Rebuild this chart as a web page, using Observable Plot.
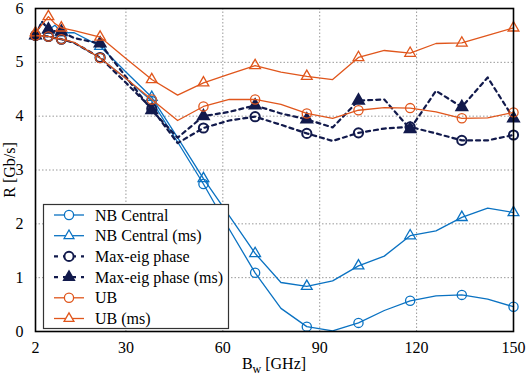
<!DOCTYPE html>
<html>
<head>
<meta charset="utf-8">
<script src="https://cdn.jsdelivr.net/npm/d3@7"></script>
<script src="https://cdn.jsdelivr.net/npm/@observablehq/plot@0.6"></script>
<style>
  html, body { margin: 0; padding: 0; background: #fff; }
</style>
</head>
<body>
<div id="chart"></div>
<script>
// Bandwidth samples [GHz]
const bw = [2,4,6,8,10,14,22,30,38,46,54,62,70,78,86,94,102,110,118,126,134,142,150];
// Bandwidths where markers are drawn
const markerBw = [2,6,10,22,38,54,70,86,102,118,134,150];
const xTicks = [2,30,60,90,120,150];
const yTicks = [0,1,2,3,4,5,6];

// Rate values [Gb/s]
const nbCentral   = [5.50,5.49,5.48,5.45,5.43,5.36,5.08,4.70,4.28,3.52,2.74,1.90,1.09,0.43,0.09,0.01,0.16,0.39,0.57,0.66,0.68,0.60,0.46];
const nbCentralMs = [5.50,5.76,5.60,5.69,5.55,5.55,5.30,4.82,4.35,3.60,2.84,2.15,1.45,0.91,0.84,0.94,1.22,1.40,1.78,1.87,2.12,2.29,2.21];
const maxEig      = [5.50,5.49,5.48,5.45,5.43,5.36,5.09,4.62,4.14,3.50,3.78,3.92,3.99,3.84,3.68,3.54,3.69,3.77,3.80,3.68,3.55,3.55,3.65];
const maxEigMs    = [5.50,5.76,5.61,5.58,5.57,5.45,5.35,4.73,4.11,3.60,4.00,4.08,4.20,4.05,3.94,3.79,4.29,4.31,3.76,4.47,4.17,4.72,3.96];
const ub          = [5.50,5.49,5.48,5.45,5.43,5.37,5.08,4.70,4.31,3.92,4.18,4.31,4.31,4.22,4.05,3.96,4.11,4.16,4.15,4.08,3.96,3.97,4.07];
const ubMs        = [5.55,5.70,5.85,5.72,5.64,5.59,5.47,5.07,4.68,4.39,4.62,4.78,4.94,4.82,4.74,4.68,5.09,5.22,5.17,5.35,5.36,5.50,5.64];

const seriesNames = ["NB Central","NB Central (ms)","Max-eig phase","Max-eig phase (ms)","UB","UB (ms)"];
const seriesValues = [nbCentral, nbCentralMs, maxEig, maxEigMs, ub, ubMs];

const BLUE = "#0a72c2", ORANGE = "#e0561c", NAVY = "#121a4c";
const SERIF = "Liberation Serif";
const styles = {
  "NB Central":         {color: BLUE,   dash: null,  width: 1.3, symbol: "circle",   fill: "none"},
  "NB Central (ms)":    {color: BLUE,   dash: null,  width: 1.3, symbol: "triangle", fill: "none"},
  "Max-eig phase":      {color: NAVY,   dash: "4,4", width: 2.2, symbol: "circle",   fill: "none"},
  "Max-eig phase (ms)": {color: NAVY,   dash: "4,4", width: 2.2, symbol: "triangle", fill: NAVY},
  "UB":                 {color: ORANGE, dash: null,  width: 1.3, symbol: "circle",   fill: "none"},
  "UB (ms)":            {color: ORANGE, dash: null,  width: 1.3, symbol: "triangle", fill: "none"}
};

const data = [];
seriesNames.forEach((name, i) => {
  bw.forEach((x, j) => data.push({series: name, bw: x, r: seriesValues[i][j], marker: markerBw.includes(x)}));
});

const W = 526, H = 378;
const marks = [
  Plot.gridX(xTicks.filter(d => d !== 2 && d !== 150), {stroke: "#999", strokeOpacity: 1, strokeDasharray: "1.5,2", strokeWidth: 1}),
  Plot.gridY(yTicks.filter(d => d !== 0 && d !== 6), {stroke: "#999", strokeOpacity: 1, strokeDasharray: "1.5,2", strokeWidth: 1}),
];
seriesNames.forEach(name => {
  const s = styles[name];
  const d = data.filter(p => p.series === name);
  marks.push(Plot.line(d, {x: "bw", y: "r", stroke: s.color, strokeWidth: s.width, strokeDasharray: s.dash}));
  marks.push(Plot.dot(d.filter(p => p.marker), {
    x: "bw", y: "r", symbol: s.symbol, r: s.symbol === "circle" ? 4.6 : 4.0,
    stroke: s.color, fill: s.fill === "none" ? "white" : s.fill, fillOpacity: s.fill === "none" ? 0 : 1,
    strokeWidth: s.color === NAVY ? 2 : 1.3
  }));
});
marks.push(Plot.frame({stroke: "black", strokeWidth: 1.6}));

const plot = Plot.plot({
  width: W, height: H,
  marginLeft: 35, marginRight: 13, marginTop: 8, marginBottom: 47,
  style: {background: "white", color: "black"},
  x: {domain: [2, 150], ticks: xTicks, tickSize: 0, tickPadding: 10, label: null, tickFormat: d3.format("d")},
  y: {domain: [0, 6], ticks: yTicks, tickSize: 0, tickPadding: 12, label: null, tickFormat: d3.format("d")},
  marks
});
document.getElementById("chart").appendChild(plot);

const svg = d3.select(plot);
// Tick labels: serif font at MATLAB-like size
svg.attr("font-family", SERIF).attr("font-size", 16);
svg.selectAll("g[aria-label='x-axis tick label'], g[aria-label='y-axis tick label']")
  .attr("font-family", SERIF).attr("font-size", 16);

// Axis titles
const xl = svg.append("text").attr("x", 274).attr("y", 369).attr("text-anchor", "middle")
  .attr("font-family", SERIF).attr("font-size", 16).attr("fill", "black");
xl.append("tspan").text("B");
xl.append("tspan").attr("dy", 4).attr("font-size", 12).text("w");
xl.append("tspan").attr("dy", -4).text(" [GHz]");

svg.append("text").attr("transform", "translate(15,170) rotate(-90)").attr("text-anchor", "middle")
  .attr("font-family", SERIF).attr("font-size", 16).attr("fill", "black").text("R [Gb/s]");

// Legend
const lg = svg.append("g").attr("text-anchor", "start");
lg.append("rect").attr("x", 43.5).attr("y", 204.5).attr("width", 185).attr("height", 124)
  .attr("fill", "white").attr("stroke", "#333").attr("stroke-width", 1.2);
seriesNames.forEach((name, i) => {
  const s = styles[name];
  const y = 215 + i * 20.7;
  lg.append("line").attr("x1", 54).attr("x2", 84).attr("y1", y).attr("y2", y)
    .attr("stroke", s.color).attr("stroke-width", s.width).attr("stroke-dasharray", s.dash ? "4,5" : null);
  if (s.symbol === "circle") {
    lg.append("circle").attr("cx", 69).attr("cy", y).attr("r", 4.6)
      .attr("fill", "white").attr("stroke", s.color).attr("stroke-width", s.color === NAVY ? 2 : 1.3);
  } else {
    const sym = d3.symbol(d3.symbolTriangle, 42)();
    lg.append("path").attr("d", sym).attr("transform", `translate(69,${y})`)
      .attr("fill", s.fill === "none" ? "white" : s.fill).attr("stroke", s.color).attr("stroke-width", s.color === NAVY ? 2 : 1.3);
  }
  lg.append("text").attr("x", 95).attr("y", y).attr("dy", "0.35em")
    .attr("font-family", SERIF).attr("font-size", 16)
    .attr("text-anchor", "start").attr("fill", "black").text(name);
});
</script>
</body>
</html>
